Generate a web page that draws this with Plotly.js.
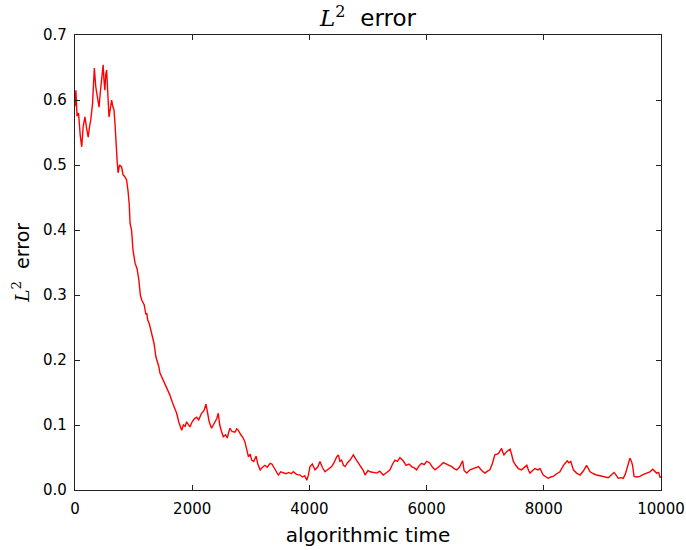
<!DOCTYPE html>
<html>
<head>
<meta charset="utf-8">
<script src="https://cdn.plot.ly/plotly-3.0.1.min.js"></script>
<style>html,body{margin:0;padding:0;background:#fff;}#chart{width:686px;height:550px;}</style>
</head>
<body>
<div id="chart"></div>
<script>
// algorithmic time (x) and L2 error (y)
const algTime = [0,15,35,60,90,115,140,170,200,225,250,270,300,330,355,380,410,430,455,480,495,510,525,540,560,580,600,625,645,665,685,700,720,735,760,795,820,850,880,905,925,940,965,990,1025,1060,1090,1115,1140,1180,1210,1225,1240,1270,1310,1350,1380,1400,1430,1450,1505,1535,1580,1620,1660,1705,1735,1770,1800,1820,1850,1880,1905,1930,1960,2000,2040,2075,2110,2160,2200,2235,2260,2290,2330,2360,2390,2420,2445,2470,2500,2530,2570,2600,2620,2645,2680,2730,2760,2785,2830,2870,2900,2930,2960,2990,3015,3050,3090,3120,3160,3200,3240,3280,3330,3360,3385,3430,3470,3510,3555,3600,3650,3690,3725,3780,3840,3880,3920,3955,3980,4010,4050,4095,4140,4180,4220,4265,4320,4380,4420,4465,4495,4520,4550,4580,4610,4650,4695,4750,4790,4835,4880,4920,4950,5000,5035,5090,5150,5200,5260,5320,5375,5420,5460,5500,5545,5600,5650,5700,5745,5790,5830,5870,5915,5960,6000,6050,6100,6145,6200,6240,6285,6340,6390,6430,6470,6515,6560,6615,6640,6685,6740,6800,6850,6885,6940,6995,7040,7080,7120,7165,7225,7260,7280,7300,7320,7365,7400,7425,7450,7480,7520,7565,7620,7665,7710,7740,7765,7810,7850,7900,7935,7990,8030,8075,8120,8160,8220,8275,8335,8400,8430,8460,8505,8560,8620,8680,8730,8760,8790,8850,8900,8960,9015,9060,9100,9150,9200,9240,9270,9320,9355,9390,9415,9445,9470,9495,9515,9530,9540,9590,9640,9700,9755,9810,9860,9900,9925,9960,9985,10000];
const l2Error = [0.59,0.615,0.575,0.58,0.545,0.528,0.56,0.574,0.555,0.543,0.56,0.57,0.595,0.649,0.62,0.605,0.589,0.61,0.63,0.654,0.63,0.615,0.64,0.646,0.61,0.574,0.585,0.6,0.59,0.585,0.56,0.528,0.505,0.488,0.5,0.497,0.485,0.482,0.477,0.46,0.44,0.41,0.4,0.369,0.349,0.34,0.323,0.3,0.292,0.285,0.27,0.272,0.262,0.255,0.241,0.225,0.205,0.2,0.19,0.18,0.169,0.165,0.155,0.146,0.135,0.123,0.118,0.105,0.098,0.092,0.1,0.098,0.105,0.102,0.097,0.105,0.11,0.112,0.108,0.118,0.122,0.132,0.12,0.105,0.095,0.1,0.103,0.11,0.118,0.1,0.09,0.082,0.085,0.08,0.088,0.095,0.09,0.089,0.094,0.092,0.085,0.08,0.074,0.062,0.051,0.055,0.046,0.044,0.052,0.04,0.031,0.035,0.038,0.035,0.041,0.04,0.036,0.03,0.023,0.028,0.026,0.025,0.027,0.025,0.028,0.024,0.023,0.02,0.022,0.015,0.022,0.036,0.04,0.031,0.035,0.044,0.035,0.028,0.032,0.036,0.042,0.051,0.054,0.044,0.046,0.038,0.036,0.042,0.046,0.054,0.048,0.041,0.035,0.03,0.023,0.03,0.028,0.027,0.026,0.029,0.023,0.027,0.031,0.04,0.046,0.044,0.05,0.045,0.038,0.04,0.036,0.034,0.031,0.037,0.041,0.039,0.044,0.042,0.035,0.031,0.036,0.038,0.042,0.04,0.037,0.036,0.033,0.031,0.035,0.045,0.03,0.026,0.031,0.033,0.035,0.036,0.03,0.026,0.029,0.031,0.04,0.054,0.056,0.06,0.064,0.058,0.054,0.059,0.062,0.063,0.055,0.044,0.038,0.033,0.031,0.034,0.038,0.03,0.026,0.03,0.033,0.031,0.033,0.023,0.02,0.018,0.02,0.021,0.025,0.028,0.038,0.045,0.042,0.044,0.031,0.026,0.023,0.03,0.038,0.033,0.028,0.025,0.023,0.022,0.021,0.02,0.019,0.023,0.027,0.022,0.018,0.019,0.018,0.024,0.031,0.042,0.049,0.044,0.038,0.028,0.021,0.02,0.021,0.024,0.026,0.028,0.032,0.028,0.026,0.027,0.019,0.021];
const xTicks = [0,2000,4000,6000,8000,10000];
const yTicks = [0.0,0.1,0.2,0.3,0.4,0.5,0.6,0.7];

const L2 = '<span style="font-family:DejaVu Serif"><i>L</i><sup>2</sup></span>&nbsp;&nbsp;error';

const trace = {
  x: algTime, y: l2Error, type: 'scatter', mode: 'lines',
  line: {color: '#ff0000', width: 1.4}, hoverinfo: 'skip'
};

const axisCommon = {
  showline: true, linecolor: '#222', linewidth: 1.2, mirror: 'ticks',
  ticks: 'inside', ticklen: 5, tickwidth: 1, tickcolor: '#222',
  showgrid: false, zeroline: false,
  tickfont: {family: 'DejaVu Sans', size: 15, color: '#000'}
};

const layout = {
  width: 686, height: 550,
  margin: {l: 75, r: 25, t: 35, b: 60},
  paper_bgcolor: '#fff', plot_bgcolor: '#fff',
  showlegend: false,
  font: {family: 'DejaVu Sans', color: '#000'},
  title: {text: L2, font: {family: 'DejaVu Sans', size: 23, color: '#000'},
          x: 0.5, xref: 'paper', y: 0.967, yref: 'container', yanchor: 'middle'},
  xaxis: Object.assign({}, axisCommon, {
    range: [0, 10000], tickvals: xTicks, ticktext: xTicks.map(String),
    ticklabelstandoff: 5,
    title: {text: 'algorithmic time', font: {family: 'DejaVu Sans', size: 20, color: '#000'}, standoff: 10}
  }),
  yaxis: Object.assign({}, axisCommon, {
    range: [0, 0.7], tickvals: yTicks, ticktext: yTicks.map(v => v.toFixed(1)),
    ticklabelstandoff: 4,
    title: {text: L2, font: {family: 'DejaVu Sans', size: 19, color: '#000'}, standoff: 8}
  })
};

Plotly.newPlot('chart', [trace], layout, {displayModeBar: false, staticPlot: true});
</script>
</body>
</html>
